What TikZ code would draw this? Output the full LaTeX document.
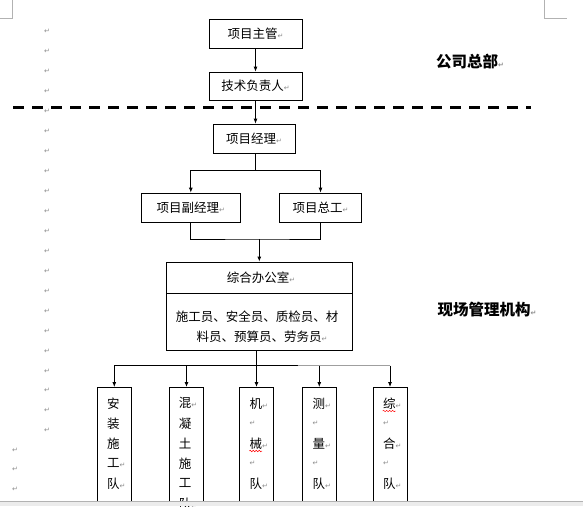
\documentclass[tikz,border=0pt]{standalone}
\usepackage{fontspec}
\setmainfont{Noto Sans CJK SC}
\newfontfamily\markfont{DejaVu Sans}
\usetikzlibrary{arrows.meta,calc,decorations.pathmorphing}
\newcommand\parmark{{\markfont\color{gray!90}\fontsize{7}{7}\selectfont ↵}}

\begin{document}
\begin{tikzpicture}[x=1pt,y=-1pt,line width=0.8pt,
	every node/.style={font=\fontsize{12.5}{15}\selectfont},
	box/.style={draw,inner sep=0pt,minimum height=29pt},
	team/.style={draw,inner sep=0pt,minimum width=34pt,minimum height=116pt,anchor=north},
	arr/.style={-{Latex[length=5pt,width=4pt]}},
	title/.style={font=\fontsize{15.5}{18}\selectfont\bfseries},
	squiggle/.style={red,line width=0.5pt,decorate,decoration={snake,amplitude=0.7pt,segment length=3pt}}]
			%%%%% START %%%%%
			
			\useasboundingbox (0,0) rectangle (583,506);
			\fill[white] (0,0) rectangle (583,506);
			
			\draw[gray!60,line width=0.6pt] (12.7,0) -- (12.7,18) -- (0,18);
			\draw[gray!60,line width=0.6pt] (544,0) -- (544,18) -- (567,18);
			
			\foreach \i in {0,...,20}
				\node (pm\i) at (47,31.7+19.95*\i) {\parmark};
			\foreach \i in {0,1,2}
				\node (pn\i) at (15,450+19.7*\i) {\parmark};
			
			\node[box,minimum width=93pt] (zhuguan) at (255.5,33.5) {项目主管\parmark};
			\node[box,minimum width=93pt,minimum height=28pt] (jishu) at (255.5,86) {技术负责人\parmark};
			\node[title] (zongbu) at (470,62) {公司总部\parmark};
			
			\draw[line width=2.5pt,dash pattern=on 10.5pt off 8.5pt] (13,107.7) -- (531,107.7);
			
			\node[box,minimum width=82pt] (jingli) at (254,138.5) {项目经理\parmark};
			\node[box,minimum width=99pt] (fujingli) at (190.8,207.5) {项目副经理\parmark};
			\node[box,minimum width=82pt] (zonggong) at (320.5,207.5) {项目总工\parmark};
			
			\node[draw,inner sep=0pt,minimum width=185.3pt,minimum height=88pt] (bangong) at (259.3,306) {};
			\draw ($(bangong.north west)+(0,32)$) -- ($(bangong.north east)+(0,32)$);
			\node (bgtitle) at (261,278) {综合办公室\parmark};
			\node (bgline1) at (257,316.7) {施工员、安全员、质检员、材};
			\node (bgline2) at (262,336.7) {料员、预算员、劳务员\parmark};
			\node[title] (xianchang) at (487,310) {现场管理机构\parmark};
			
			\coordinate (split1) at (255.7,170);
			\coordinate (join1) at (259.3,239);
			\coordinate (split2) at (256.7,365.7);
			\coordinate (fade) at (297.7,365.7);
			
			\draw[arr] (zhuguan) -- (jishu);
			\draw[arr] (jishu.south) -- (jishu.south |- jingli.north);
			\draw (jingli.south -| split1) -- (split1);
			\draw[arr] (split1) -| (fujingli.north);
			\draw[arr] (split1) -| (zonggong.north);
			\draw (fujingli.south) |- (join1) -| (zonggong.south);
			\draw[arr] (join1) -- (join1 |- bangong.north);
			\draw (bangong.south -| split2) -- (split2);
			
			\foreach \x/\n in {114.3/t1,186.5/t2,256.5/t3,319.3/t4,390/t5}
				\node[team] (\n) at (\x,387) {};
			\draw (t1.north |- split2) -- (fade);
			\draw[gray!75] (fade) -- (t5.north |- split2);
			\foreach \n in {t1,t2,t3,t4,t5}
				\draw[arr] (\n.north |- split2) -- (\n.north);
			
			\foreach \x/\chars [count=\k] in {106.7/{安,装,施,工\parmark,队\parmark},
				178.5/{混\parmark,凝,土,施,工,队\parmark},
				249.3/{机\parmark,\parmark,械\parmark,\parmark,队\parmark},
				312.3/{测\parmark,\parmark,量\parmark,\parmark,队\parmark},
				382.7/{综\parmark,\parmark,合\parmark,\parmark,队\parmark}}
				\foreach \ch [count=\i] in \chars
					\node[anchor=west,inner sep=0pt] (c\k-\i) at (\x,383.3+20*\i) {\ch};
			
			\draw[squiggle] (249.3,451) -- (262,451);
			\draw[squiggle] (382.7,411) -- (395.5,411);
			
			\fill[gray!15] (0,501) rectangle (583,506);
			\draw[gray!60,line width=0.6pt] (0,501) -- (583,501);
			
			%%%%% END %%%%%
\end{tikzpicture}
\end{document}
